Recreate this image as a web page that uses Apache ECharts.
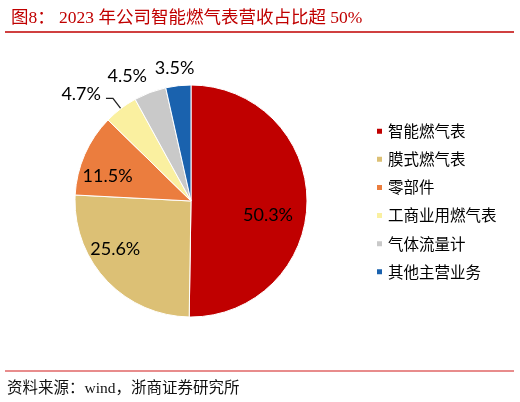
<!DOCTYPE html>
<html><head><meta charset="utf-8">
<script src="https://cdn.jsdelivr.net/npm/echarts@6/dist/echarts.min.js"></script>
<style>html,body{margin:0;padding:0;background:#fff}#c{width:520px;height:402px}</style>
</head><body><div id="c"></div>
<script>
var categories = ['智能燃气表','膜式燃气表','零部件','工商业用燃气表','气体流量计','其他主营业务'];
var shares = [50.3, 25.6, 11.5, 4.7, 4.5, 3.5];
var colors = ['#C00000','#DCC075','#EB7D3E','#FAF0A0','#C9C9C9','#1A62AE'];
var insideIdx = [0,1,2];
// label nudges (style only)
var insideShift = {0:[-13,13], 1:[-10,-13], 2:[-1,11]};
var outsideLine = {3:[13,7], 4:[17,0], 5:[18,0]};
var outsideShift = {3:[-2,-4], 4:[3,0], 5:[18,0]};

var chart = echarts.init(document.getElementById('c'), null, {renderer:'canvas'});
var labelFont = 'Lato, "Liberation Sans", sans-serif';
var fmt = function(p){return p.value.toFixed(1)+'%';};
var mainData = categories.map(function(n,i){
  var isIn = insideIdx.indexOf(i) >= 0;
  var ln = outsideLine[i] || [10,5];
  return {
    name: n, value: shares[i],
    itemStyle: {color: colors[i]},
    label: {show: !isIn, distanceToLabelLine: i === 3 ? 3 : 0},
    labelLine: {show: i === 3, length: ln[0], length2: ln[1]}
  };
});
var overlayData = categories.map(function(n,i){
  return {
    name: n, value: shares[i],
    itemStyle: {color: 'rgba(0,0,0,0)'},
    label: {show: insideIdx.indexOf(i) >= 0}
  };
});
chart.setOption({
  animation: false,
  title: {
    text: '图8： 2023 年公司智能燃气表营收占比超 50%',
    left: 6, top: 5,
    textStyle: {color:'#C00000', fontSize:17.5, fontWeight:'normal', fontFamily:'"Liberation Serif", "Noto Sans CJK SC", serif'}
  },
  legend: {
    orient: 'vertical', left: 375, top: 123.5, padding: 0,
    itemWidth: 7, itemHeight: 7, itemGap: 12.6, icon: 'rect',
    data: categories,
    textStyle: {fontSize: 15.5, color:'#000', fontFamily:'"Noto Sans CJK SC", sans-serif'}
  },
  graphic: [
    {type:'line', shape:{x1:5,y1:32,x2:514,y2:32}, style:{stroke:'#C00000', lineWidth:1.5}},
    {type:'line', shape:{x1:5,y1:371,x2:514,y2:371}, style:{stroke:'#E06666', lineWidth:1.5}},
    {type:'text', left:7, top:381, style:{text:'资料来源：wind，浙商证券研究所', fontSize:15.5, fill:'#111', fontFamily:'"Liberation Serif", "Noto Sans CJK SC", serif'}}
  ],
  series: [
    {
      type: 'pie', center: [191, 201], radius: [0, 116], startAngle: 90, clockwise: true,
      avoidLabelOverlap: false,
      itemStyle: {borderColor:'#fff', borderWidth: 1},
      label: {position:'outside', formatter: fmt, fontSize:18, color:'#000', fontFamily: labelFont},
      labelLine: {lineStyle:{color:'#222', width:1.3}},
      labelLayout: function(p){ var s = outsideShift[p.dataIndex] || [0,0]; return {dx:s[0], dy:s[1]}; },
      data: mainData
    },
    {
      type: 'pie', center: [191, 201], radius: [58, 116], startAngle: 90, clockwise: true, silent: true,
      avoidLabelOverlap: false,
      label: {position:'inside', formatter: fmt, fontSize:18, color:'#000', fontFamily: labelFont},
      labelLine: {show:false},
      labelLayout: function(p){ var s = insideShift[p.dataIndex] || [0,0]; return {dx:s[0], dy:s[1]}; },
      data: overlayData
    }
  ]
});
</script></body></html>
